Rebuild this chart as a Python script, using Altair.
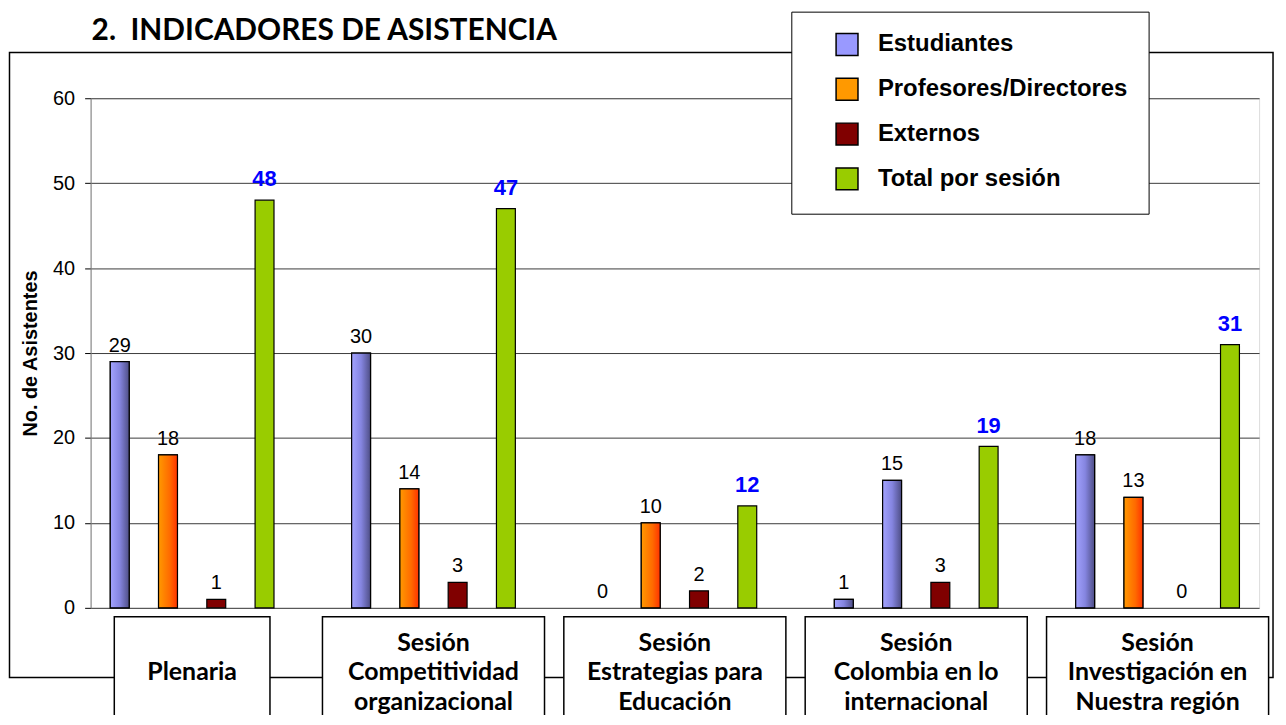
import altair as alt
import pandas as pd

# ---- data ----
sesiones = [
    "Plenaria",
    "Sesión Competitividad organizacional",
    "Sesión Estrategias para Educación",
    "Sesión Colombia en lo internacional",
    "Sesión Investigación en Nuestra región",
]
etiquetas = [
    "\nPlenaria",
    "Sesión\nCompetitividad\norganizacional",
    "Sesión\nEstrategias para\nEducación",
    "Sesión\nColombia en lo\ninternacional",
    "Sesión\nInvestigación en\nNuestra región",
]
series = ["Estudiantes", "Profesores/Directores", "Externos", "Total por sesión"]
estudiantes = [29, 30, 0, 1, 18]
profesores = [18, 14, 10, 15, 13]
externos = [1, 3, 2, 3, 0]
total = [48, 47, 12, 19, 31]

colores = ["#9999FF", "#FF9900", "#800000", "#99CC00"]
# one bar in the reference is drawn with the Estudiantes fill
apariencia = {("Sesión Colombia en lo internacional", "Profesores/Directores"): "Estudiantes"}

valores = [estudiantes, profesores, externos, total]
rows = []
for gi, s in enumerate(sesiones):
    for si, serie in enumerate(series):
        rows.append(dict(sesion=s, gi=gi, si=si, serie=serie,
                         valor=valores[si][gi],
                         look=apariencia.get((s, serie), serie)))
df = pd.DataFrame(rows)
cat_df = pd.DataFrame({"gi": list(range(len(sesiones))), "etiqueta": etiquetas})

# ---- scales ----
xscale = alt.Scale(domain=[-0.4, 4.4], nice=False, zero=False)
yscale = alt.Scale(domain=[0, 60], nice=False)

x_pos = alt.X("pos:Q", scale=xscale, axis=None)
y_val = alt.Y("valor:Q", scale=yscale, axis=alt.Axis(
    values=[0, 10, 20, 30, 40, 50, 60], labelFont="Liberation Sans", labelFontSize=20,
    labelColor="black", tickColor="black", tickSize=6, labelPadding=10,
    domainColor="#808080", gridColor="#3a3a3a", gridWidth=1,
    title="No. de Asistentes", titleFont="Liberation Sans", titleFontSize=20,
    titleFontWeight="bold", titleColor="black", titlePadding=12))

pos_calc = "datum.gi + (datum.si - 1.5) * 0.2"

frame = alt.Chart(pd.DataFrame({"a": [0]})).mark_rect(
    fillOpacity=0, stroke="black", strokeWidth=1.5
).encode(x=alt.value(-81.5), x2=alt.value(1188), y=alt.value(-46), y2=alt.value(582))

bars = alt.Chart(df).transform_filter("datum.valor > 0").transform_calculate(
    pos=pos_calc
).mark_bar(size=19, stroke="black", strokeWidth=1.2).encode(
    x=x_pos, y=y_val,
    color=alt.Color("look:N", scale=alt.Scale(domain=series, range=colores),
                    legend=alt.Legend(
                        title=None, orient="none", legendX=704, legendY=-87,
                        fillColor="white", strokeColor="black", padding=21,
                        symbolOffset=23, symbolType="square", symbolSize=484,
                        symbolStrokeColor="black", symbolStrokeWidth=1.5,
                        labelFont="Liberation Sans", labelFontWeight="bold",
                        labelFontSize=24, labelColor="black", labelOffset=19,
                        rowPadding=17, labelLimit=400)),
)

grad_est = alt.LinearGradient(gradient="linear", x1=0, x2=1, y1=0, y2=0, stops=[
    alt.GradientStop(color="#A3A3FF", offset=0),
    alt.GradientStop(color="#8585E0", offset=0.5),
    alt.GradientStop(color="#4E4E86", offset=1)])
grad_prof = alt.LinearGradient(gradient="linear", x1=0, x2=1, y1=0, y2=0, stops=[
    alt.GradientStop(color="#FF9900", offset=0),
    alt.GradientStop(color="#FF6A00", offset=0.6),
    alt.GradientStop(color="#FF3300", offset=1)])

over_est = alt.Chart(df).transform_filter(
    "datum.valor > 0 && datum.look == 'Estudiantes'"
).transform_calculate(pos=pos_calc).mark_bar(
    size=19, stroke="black", strokeWidth=1.2, fill=grad_est
).encode(x=x_pos, y=y_val)

over_prof = alt.Chart(df).transform_filter(
    "datum.valor > 0 && datum.look == 'Profesores/Directores'"
).transform_calculate(pos=pos_calc).mark_bar(
    size=19, stroke="black", strokeWidth=1.2, fill=grad_prof
).encode(x=x_pos, y=y_val)

lab_reg = alt.Chart(df).transform_filter(
    "datum.serie != 'Total por sesión'"
).transform_calculate(pos=pos_calc).mark_text(
    font="Liberation Sans", fontSize=20, dy=-10, baseline="alphabetic", color="black"
).encode(x=x_pos, y=y_val, text="valor:Q")

lab_tot = alt.Chart(df).transform_filter(
    "datum.serie == 'Total por sesión'"
).transform_calculate(pos=pos_calc).mark_text(
    font="Liberation Sans", fontSize=22, fontWeight="bold", dy=-14,
    baseline="alphabetic", color="#0000FF"
).encode(x=x_pos, y=y_val, text="valor:Q")

boxes = alt.Chart(cat_df).transform_calculate(
    hw="indexof(datum.etiqueta, 'Sesión') < 0 ? 0.3225 : 0.46"
).transform_calculate(
    bx1="datum.gi - datum.hw", bx2="datum.gi + datum.hw"
).mark_rect(fill="white", stroke="black", strokeWidth=1.5).encode(
    x=alt.X("bx1:Q", scale=xscale, axis=None), x2="bx2:Q",
    y=alt.value(521), y2=alt.value(700))

box_text = alt.Chart(cat_df).mark_text(
    font="Lato", fontWeight="bold", fontSize=25, lineBreak="\n", lineHeight=30,
    baseline="middle", align="center", color="black"
).encode(x=alt.X("gi:Q", scale=xscale, axis=None), y=alt.value(547), text="etiqueta:N")

titulo = alt.Chart(pd.DataFrame({"t": ["2.\u00a0 INDICADORES DE ASISTENCIA"]})).mark_text(
    font="Lato", fontWeight="bold", fontSize=30, align="left", baseline="alphabetic",
    color="black"
).encode(x=alt.value(1), y=alt.value(-59), text="t:N")

chart = alt.layer(
    frame, bars, over_est, over_prof, lab_reg, lab_tot, boxes, box_text, titulo
).properties(
    width=1174, height=512,
    autosize=alt.AutoSizeParams(type="none"),
    padding={"left": 83, "top": 89, "right": 19, "bottom": 106},
).configure_view(
    fill="#FFFFCC", stroke="#808080", strokeWidth=1
).configure_legend(
    strokeWidth=1.5
).configure(background="white")

chart.save("out.html", embed_options={"renderer": "svg", "actions": False})
